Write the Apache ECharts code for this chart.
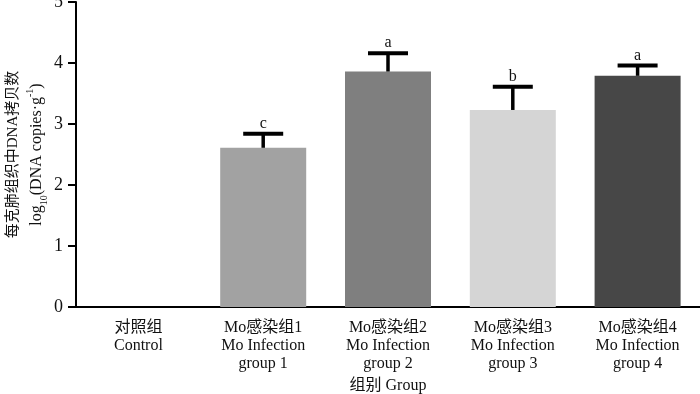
<!DOCTYPE html>
<html lang="zh-CN">
<head>
    <meta charset="UTF-8">
    <title>DNA copies</title>
    <script src="https://cdn.jsdelivr.net/npm/echarts@6/dist/echarts.min.js"></script>
    <style>
        html, body { margin: 0; padding: 0; background: #fff; }
    </style>
</head>
<body>
    <div id="chart" style="width:700px;height:394px"></div>
<script>
    // groups on the x axis
    let groups = [
      '对照组\nControl',
      'Mo感染组1\nMo Infection\ngroup 1',
      'Mo感染组2\nMo Infection\ngroup 2',
      'Mo感染组3\nMo Infection\ngroup 3',
      'Mo感染组4\nMo Infection\ngroup 4'
    ];
    // log10 copies, mean and top of the error bar
    let means = [0, 2.61, 3.86, 3.23, 3.79];
    let uppers = [null, 2.84, 4.16, 3.61, 3.96];
    let letters = ['', 'c', 'a', 'b', 'a'];
    let barColors = ['#ffffff', '#a2a2a2', '#7f7f7f', '#d5d5d5', '#474747'];

    let serif = '"Liberation Serif", "Times New Roman", "Noto Sans CJK SC", serif';

    let errData = [];
    for (let i = 0; i < groups.length; i++) {
      if (uppers[i] != null) errData.push([i, means[i], uppers[i], letters[i]]);
    }

    let myChart = echarts.init(document.getElementById('chart'));
    let option = {
      animation: false,
      grid: { left: 76, right: 0, top: 2, bottom: 87, outerBoundsMode: 'none' },
      xAxis: {
        type: 'category',
        data: groups,
        name: '组别 Group',
        nameLocation: 'middle',
        nameGap: 71,
        nameMoveOverlap: false,
        nameTextStyle: { fontFamily: serif, fontSize: 16, color: '#111' },
        axisLine: { lineStyle: { color: '#000', width: 2 } },
        axisTick: { alignWithLabel: true, length: 7, lineStyle: { color: '#000', width: 2 } },
        axisLabel: { fontFamily: serif, fontSize: 16, lineHeight: 18, color: '#111', margin: 12, interval: 0 }
      },
      yAxis: {
        type: 'value',
        min: 0,
        max: 5,
        interval: 1,
        name: '每克肺组织中DNA拷贝数\n{n|log}{sub|10}{n|(DNA copies·g}{sup|-1}{n|)}',
        nameLocation: 'middle',
        nameRotate: 90,
        nameGap: 27,
        nameMoveOverlap: false,
        nameTextStyle: {
          fontFamily: serif, fontSize: 15, lineHeight: 24, color: '#111',
          rich: {
            n: { fontFamily: serif, fontSize: 16, color: '#111', verticalAlign: 'middle' },
            sub: { fontFamily: serif, fontSize: 10, color: '#111', verticalAlign: 'bottom', padding: [6, 0, 0, 0] },
            sup: { fontFamily: serif, fontSize: 10, color: '#111', verticalAlign: 'top', padding: [0, 0, 6, 0] }
          }
        },
        splitLine: { show: false },
        axisLine: { show: true, lineStyle: { color: '#000', width: 2 } },
        axisTick: { show: true, length: 8, lineStyle: { color: '#000', width: 2 } },
        axisLabel: { fontFamily: serif, fontSize: 18, color: '#111', margin: 13 }
      },
      series: [
        {
          type: 'bar',
          barWidth: 86,
          data: means.map((v, i) => ({ value: v, itemStyle: { color: barColors[i] } }))
        },
        {
          type: 'custom',
          data: errData,
          z: 5,
          renderItem: function (params, api) {
            let base = api.coord([api.value(0), api.value(1)]);
            let top = api.coord([api.value(0), api.value(2)]);
            let half = 20;
            return {
              type: 'group',
              children: [
                { type: 'line', shape: { x1: base[0], y1: base[1], x2: top[0], y2: top[1] },
                  style: { stroke: '#000', lineWidth: 3.5 } },
                { type: 'line', shape: { x1: top[0] - half, y1: top[1], x2: top[0] + half, y2: top[1] },
                  style: { stroke: '#000', lineWidth: 4 } },
                { type: 'text', style: { text: errData[params.dataIndex][3], x: top[0], y: top[1] - 10,
                  align: 'center', verticalAlign: 'middle', fontFamily: serif, fontSize: 16, fill: '#111' } }
              ]
            };
          }
        }
      ]
    };
    myChart.setOption(option);
</script>
</body>
</html>
